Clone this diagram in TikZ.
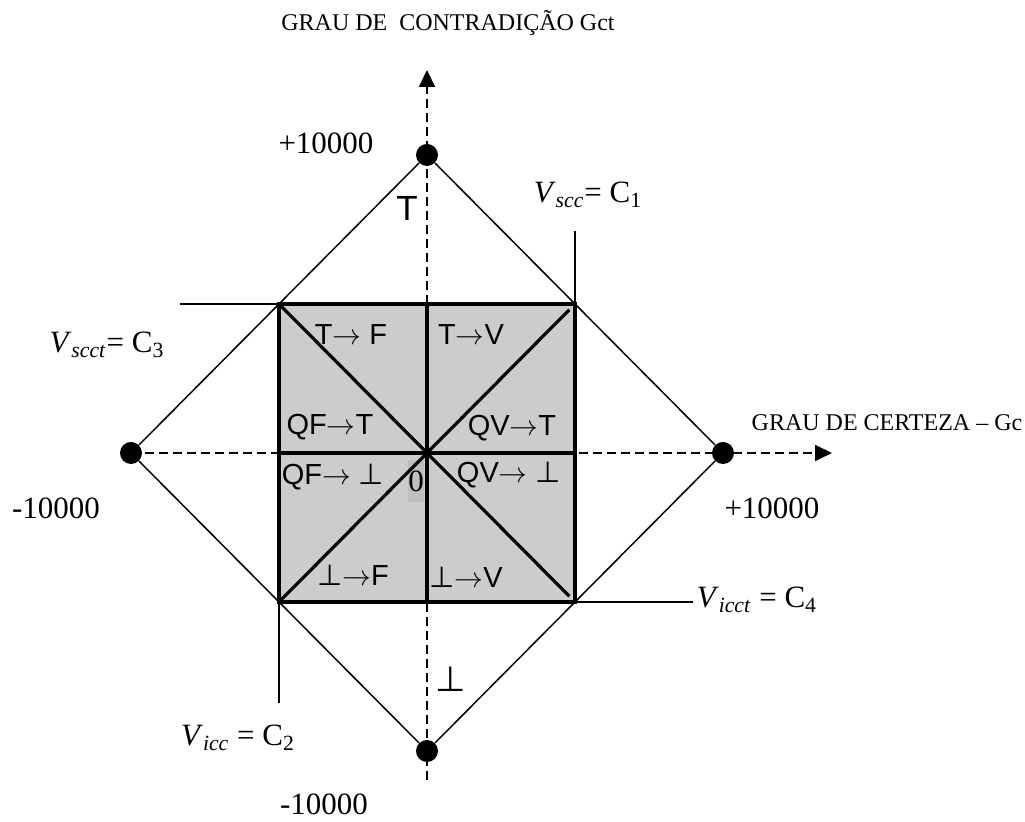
\documentclass[tikz,border=0pt]{standalone}
\usepackage{fontspec}
\setmainfont{Liberation Serif}
\newfontfamily\arialfont{Liberation Sans}
\newfontfamily\symbfont{DejaVu Sans}
\usepackage{tikz}
\usetikzlibrary{arrows.meta, positioning, calc}
\definecolor{quadgray}{RGB}{204,204,204}
\definecolor{zerogray}{RGB}{190,190,190}
\newcommand{\tackup}{{\symbfont ⊥}}
\tikzset{
  vertexdot/.style={circle, fill=black, inner sep=0pt, minimum size=11pt},
  diamondline/.style={line width=0.75pt},
  heavyline/.style={line width=1.6pt},
  leadline/.style={line width=1pt},
  axisline/.style={dash pattern=on 4.5pt off 2.5pt, line width=0.9pt,
    -{Triangle[length=8.5pt, width=8pt]}},
  titlefont/.style={font=\fontsize{12}{14}\selectfont, inner sep=0pt},
  numfont/.style={font=\fontsize{15.5}{18}\selectfont, inner sep=0pt},
  quadlabel/.style={font=\arialfont\fontsize{14.5}{17}\selectfont, inner sep=0pt},
  biglabel/.style={font=\arialfont\fontsize{17.5}{20}\selectfont, inner sep=0pt}
}

\begin{document}
\begin{tikzpicture}[x=0.5pt, y=-0.5pt]
  \useasboundingbox (0,0) rectangle (1025,822);

  % Corners of the inner square and origin
  \coordinate (o) at (427,453);
  \coordinate (c3) at (279,304);
  \coordinate (c1) at (575,304);
  \coordinate (c2) at (279,602);
  \coordinate (c4) at (575,602);

  % Grey square and the zero box
  \fill[quadgray] (c3) rectangle (c4);
  \node[numfont, fill=zerogray, minimum width=7.5pt, minimum height=21pt] (zero) at (416,481) {0};

  % Axes (dashed)
  \coordinate (ytop) at (427,70);
  \coordinate (ybot) at (427,780);
  \coordinate (xtip) at (832,453);
  \coordinate (xbeg) at (131,453);
  \draw[axisline] (ybot) -- (ytop);
  \draw[axisline] (xbeg) -- (xtip);

  % Vertices of the outer diamond
  \node[vertexdot] (top) at (427,155) {};
  \node[vertexdot] (bot) at (427,751) {};
  \node[vertexdot] (lft) at (131,453) {};
  \node[vertexdot] (rgt) at (723,453) {};
  \draw[diamondline] (top) -- (rgt) -- (bot) -- (lft) -- (top);

  % Square, mid lines and diagonals
  \draw[heavyline] (c3) rectangle (c4);
  \draw[heavyline] (c3 -| o) -- (c2 -| o);
  \draw[heavyline] (c3 |- o) -- (c1 |- o);
  \draw[heavyline, shorten >=4pt] (c3) -- (c4);
  \draw[heavyline, shorten >=4pt] (c2) -- (c1);

  % Lead lines of the limit values
  \coordinate (e3) at (180,304);
  \coordinate (e1) at (575,231);
  \coordinate (e2) at (279,703);
  \coordinate (e4) at (693,602);
  \draw[leadline] (c3) -- (e3);
  \draw[leadline] (c1) -- (e1);
  \draw[leadline] (c2) -- (e2);
  \draw[leadline] (c4) -- (e4);

  % Axis titles and values
  \node[titlefont] (gctlabel) at (448,23) {GRAU DE\ \ CONTRADIÇÃO Gct};
  \node[titlefont] (gclabel) at (887,423) {GRAU DE CERTEZA – Gc};
  \node[numfont] (ymax) at (326,143) {+10000};
  \node[numfont] (xmax) at (772,508) {+10000};
  \node[numfont] (xmin) at (56,508) {-10000};
  \node[numfont] (ymin) at (324,804) {-10000};
  \node[biglabel] (toplabel) at (407,208) {T};
  \node[biglabel] (botlabel) at (451,679) {\tackup};

  % Limit values
  \node[numfont] (vscc) at (588,195) {\textit{V}\textsubscript{\textit{scc}}= C\textsubscript{1}};
  \node[numfont] (vscct) at (107,345) {\textit{V}\textsubscript{\textit{scct}}= C\textsubscript{3}};
  \node[numfont] (vicc) at (238,738) {\textit{V}\textsubscript{\textit{icc}} = C\textsubscript{2}};
  \node[numfont] (vicct) at (757,600) {\textit{V}\textsubscript{\textit{icct}} = C\textsubscript{4}};

  % Regions inside the square
  \node[quadlabel] (tf) at (351,335) {T$\rightarrow$ F};
  \node[quadlabel] (tv) at (471,335) {T$\rightarrow$V};
  \node[quadlabel] (qft) at (330,427) {QF$\rightarrow$T};
  \node[quadlabel] (qvt) at (512,428) {QV$\rightarrow$T};
  \node[quadlabel] (qfb) at (333,477) {QF$\rightarrow$ \tackup};
  \node[quadlabel] (qvb) at (509,475) {QV$\rightarrow$ \tackup};
  \node[quadlabel] (bf) at (353,575) {\tackup$\rightarrow$F};
  \node[quadlabel] (bv) at (466,577) {\tackup$\rightarrow$V};
\end{tikzpicture}
\end{document}
